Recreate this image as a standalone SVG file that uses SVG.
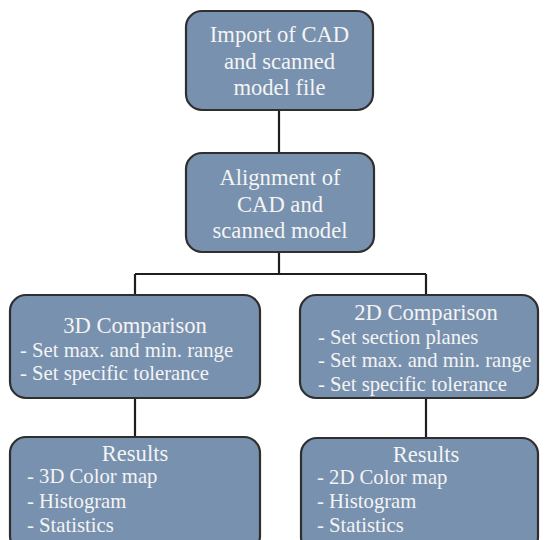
<svg xmlns="http://www.w3.org/2000/svg" width="547" height="540" viewBox="0 0 547 540">
<style>
.box{fill:#7891ae;stroke:#2f2f2f;stroke-width:2.2}
.t{font-family:"Liberation Serif","Times New Roman",serif;font-size:22.6px;fill:#f4f4f4}
.c{text-anchor:middle}
.l{font-family:"Liberation Serif","Times New Roman",serif;font-size:20.7px;fill:#f4f4f4}
.con{stroke:#1e1e1e;stroke-width:2.2;fill:none}
</style>
<rect width="547" height="540" fill="#ffffff"/>
<g id="connectors">
<path class="con" d="M279 110 V153"/>
<path class="con" d="M279 252 V274"/>
<path class="con" d="M135 274 H426"/>
<path class="con" d="M135 274 V295"/>
<path class="con" d="M426 274 V295"/>
<path class="con" d="M135 398 V437"/>
<path class="con" d="M426 398 V438"/>
</g>
<g id="n1">
<rect class="box" x="186" y="11" width="187" height="99" rx="16"/>
<text class="t c" x="279.5" y="42">Import of CAD</text>
<text class="t c" x="279.5" y="68.5">and scanned</text>
<text class="t c" x="279.5" y="95">model file</text>
</g>
<g id="n2">
<rect class="box" x="186" y="153" width="188" height="99" rx="16"/>
<text class="t c" x="280" y="185">Alignment of</text>
<text class="t c" x="280" y="212">CAD and</text>
<text class="t c" x="280" y="238">scanned model</text>
</g>
<g id="n3">
<rect class="box" x="10" y="295" width="250" height="103" rx="16"/>
<text class="t c" x="135" y="333">3D Comparison</text>
<text class="l" x="20" y="357">- Set max. and min. range</text>
<text class="l" x="20" y="380">- Set specific tolerance</text>
</g>
<g id="n4">
<rect class="box" x="300" y="295" width="238" height="103" rx="16"/>
<text class="t c" x="426" y="320">2D Comparison</text>
<text class="l" x="318" y="344">- Set section planes</text>
<text class="l" x="318" y="367">- Set max. and min. range</text>
<text class="l" x="318" y="391">- Set specific tolerance</text>
</g>
<g id="n5">
<rect class="box" x="10" y="437" width="250" height="115" rx="16"/>
<text class="t c" x="135" y="461">Results</text>
<text class="l" x="27" y="483">- 3D Color map</text>
<text class="l" x="27" y="508">- Histogram</text>
<text class="l" x="27" y="532">- Statistics</text>
</g>
<g id="n6">
<rect class="box" x="301" y="438" width="237" height="115" rx="16"/>
<text class="t c" x="426" y="462">Results</text>
<text class="l" x="317" y="484">- 2D Color map</text>
<text class="l" x="317" y="508">- Histogram</text>
<text class="l" x="317" y="532">- Statistics</text>
</g>
</svg>
